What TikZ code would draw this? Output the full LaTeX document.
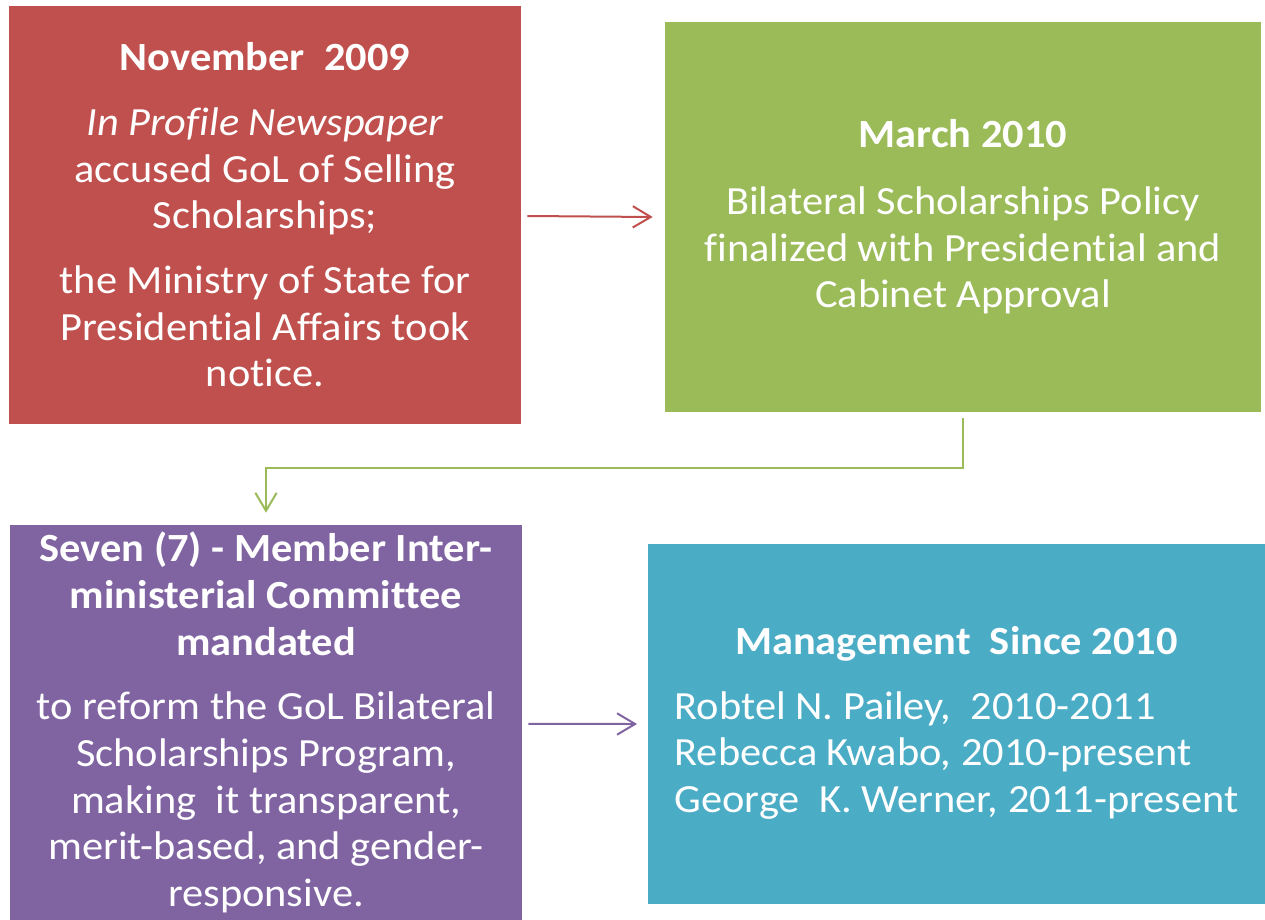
\documentclass[tikz,border=0pt]{standalone}
\usepackage{fontspec}
\setmainfont{Carlito}[FakeStretch=1.06, Ligatures=NoCommon]
\usetikzlibrary{arrows.meta}
\definecolor{cred}{HTML}{C0504D}
\definecolor{cgreen}{HTML}{9BBB59}
\definecolor{cpurple}{HTML}{8064A2}
\definecolor{cblue}{HTML}{4BACC6}
\begin{document}
\begin{tikzpicture}[x=0.75pt,y=-0.75pt,
  box/.style={rectangle, inner sep=0pt, text=white, align=center,
    font=\fontsize{30}{35}\selectfont},
  conn/.style={line width=1.5pt,
    -{Straight Barb[length=13.5pt,width=16pt,line width=1.5pt]}}]
\useasboundingbox (0,0) rectangle (1265,920);

\node[box, fill=cred, minimum width=384pt, minimum height=313.5pt] (red) at (265,215)
{{\bfseries November\ \ 2009}\\[13.5pt]
\textit{In Profile Newspaper}\\
accused GoL of Selling\\
Scholarships;\\[13.5pt]
the Ministry of State for\\
Presidential Affairs took\\
notice.};

\node[box, fill=cgreen, minimum width=447pt, minimum height=292.5pt] (green) at (963,217)
{{\bfseries March 2010}\\[15pt]
Bilateral Scholarships Policy\\
finalized with Presidential and\\
Cabinet Approval};

\node[box, fill=cpurple, minimum width=384pt, minimum height=296.25pt] (purple) at (266,722.5)
{{\bfseries Seven (7) - Member Inter-}\\
{\bfseries ministerial Committee}\\
{\bfseries mandated}\\[13.5pt]
to reform the GoL Bilateral\\
Scholarships Program,\\
making\ \ it transparent,\\
merit-based, and gender-\\
responsive.};

\node[box, fill=cblue, minimum width=462.75pt, minimum height=270pt] (blue) at (956.5,724)
{\begin{tabular}{@{}l@{}}
\multicolumn{1}{c}{\bfseries Management\ \ Since 2010}\\[13.5pt]
Robtel N. Pailey,\ \ 2010-2011\\
Rebecca Kwabo, 2010-present\\
George\ \ K. Werner, 2011-present
\end{tabular}};

\draw[conn, cred] ([xshift=4.5pt,yshift=-0.75pt]red.east) -- ([xshift=-9pt]green.west);
\draw[conn, cgreen] ([yshift=-4.5pt]green.south) -- ++(0,50) -| ([yshift=9pt]purple.north);
\draw[conn, cpurple] ([xshift=4.5pt,yshift=-1.1pt]purple.east) -- ([xshift=-8pt]blue.west);
\end{tikzpicture}
\end{document}
